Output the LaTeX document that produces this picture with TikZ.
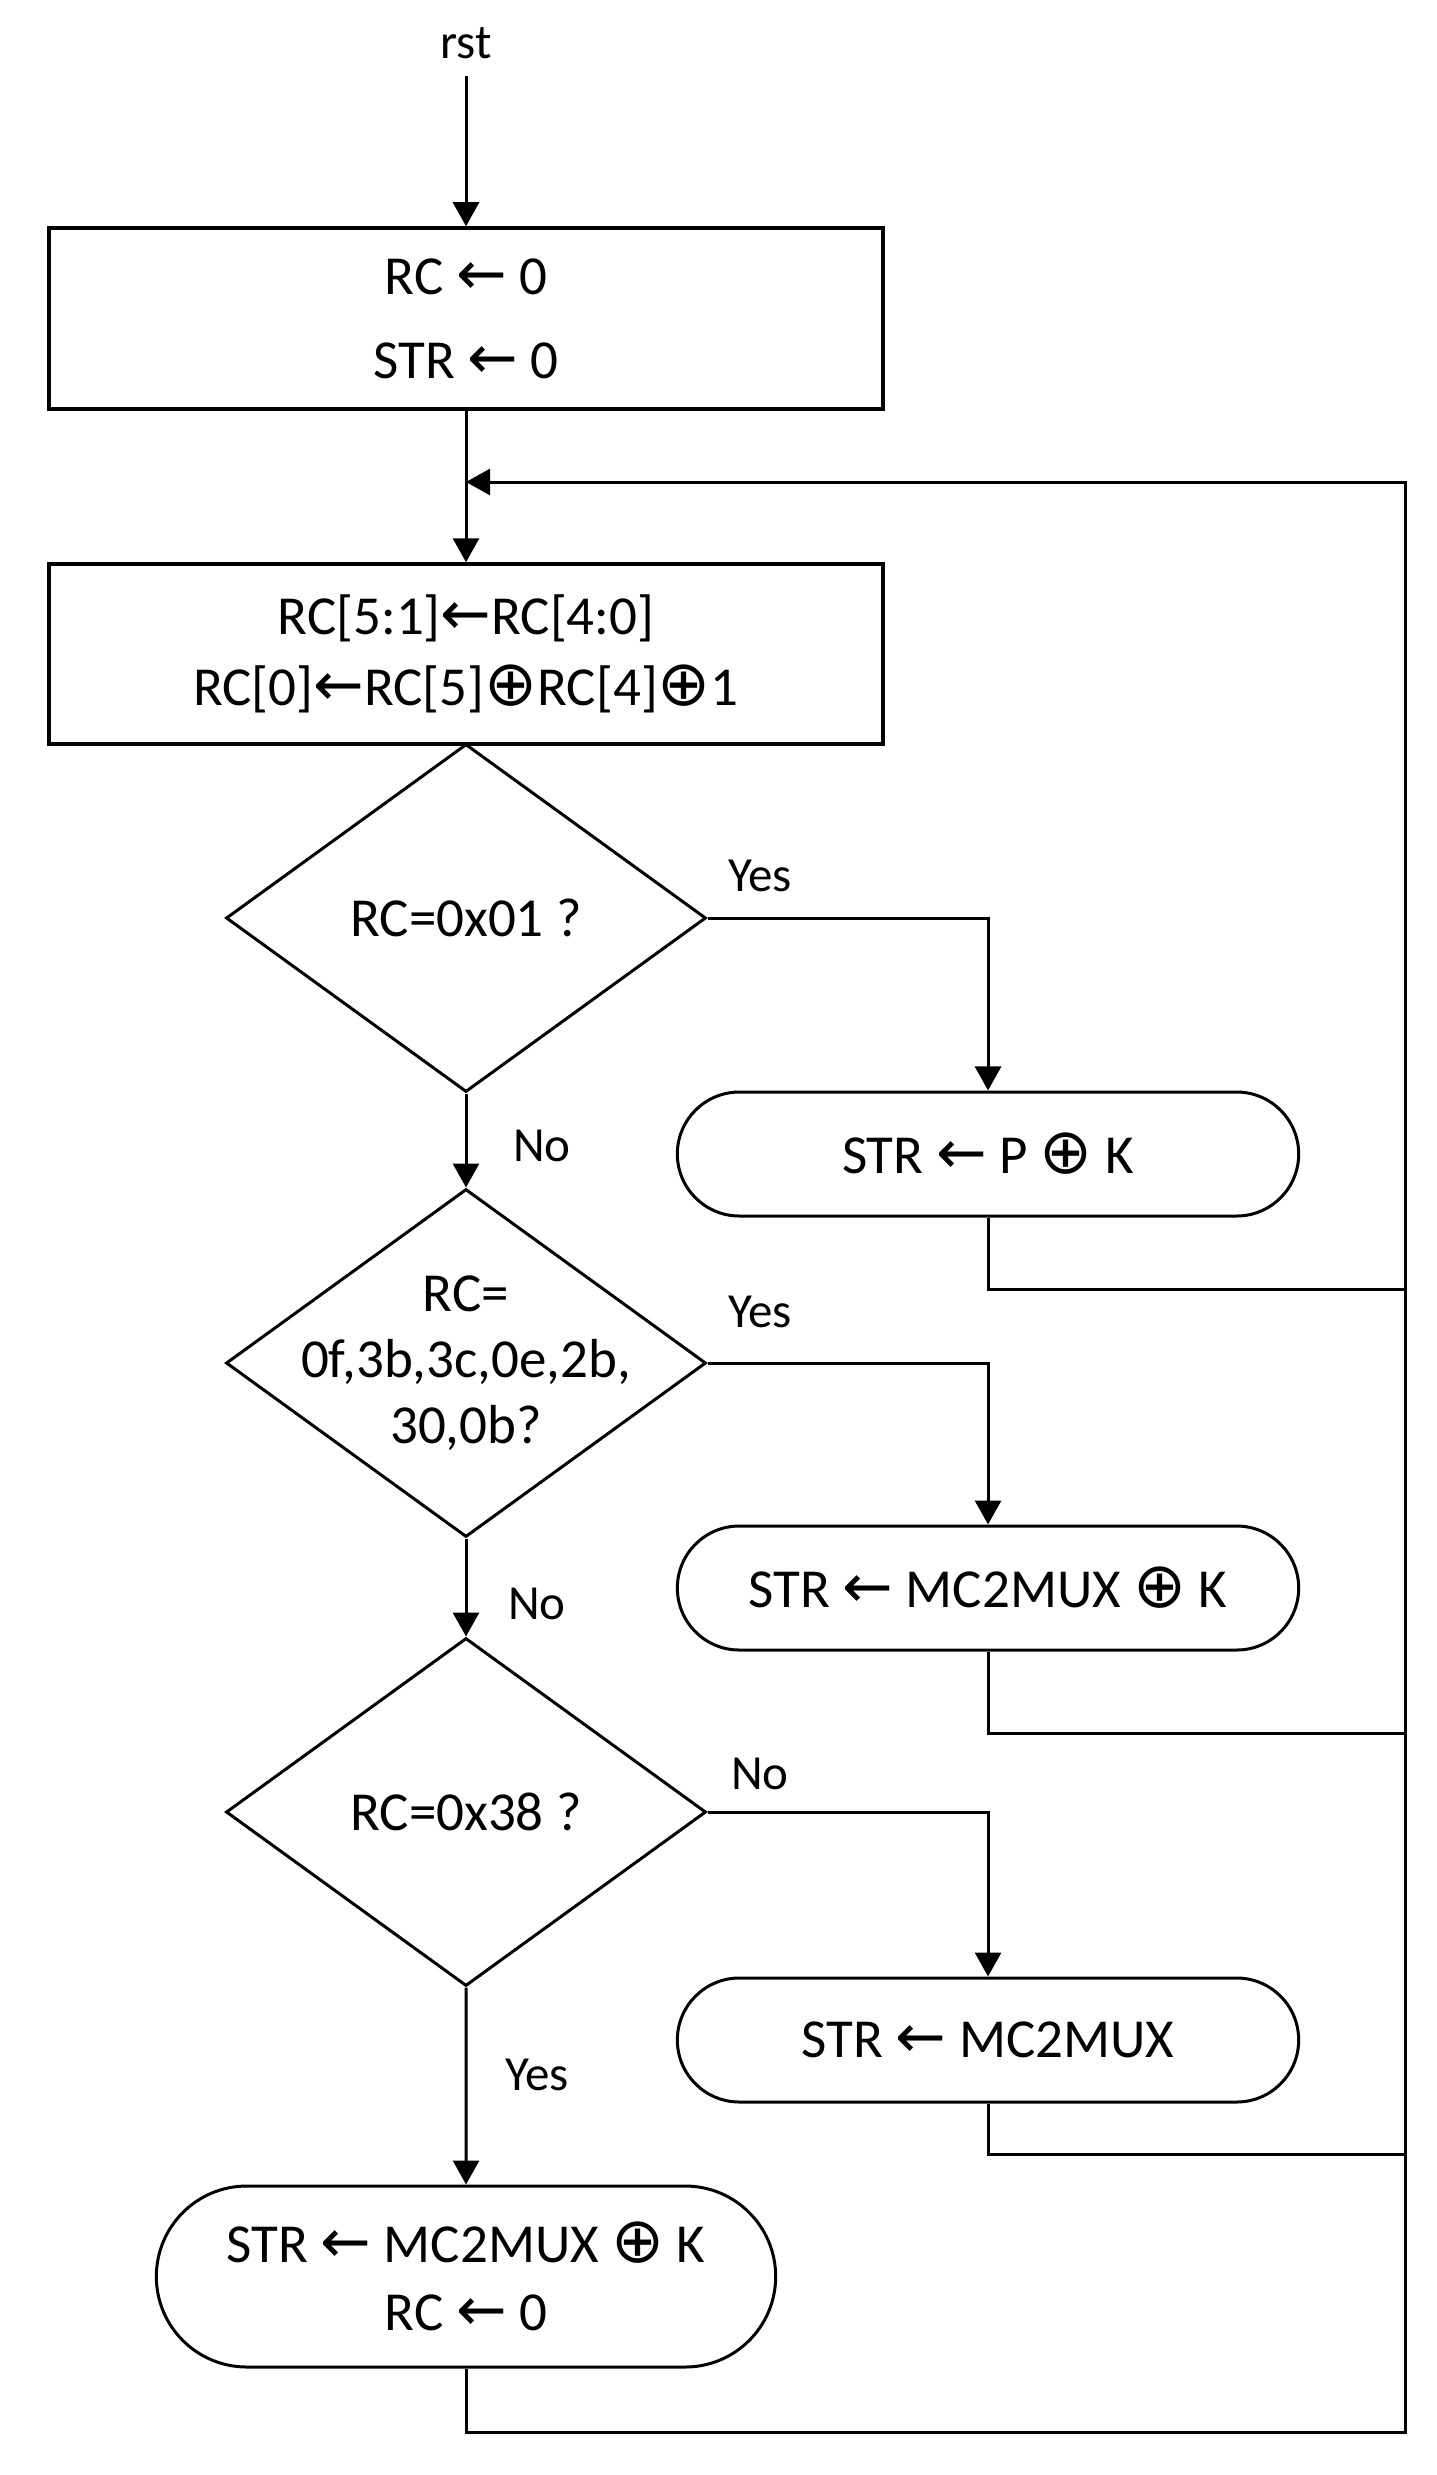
\documentclass[tikz,border=0pt]{standalone}
\usepackage{fontspec}
\setmainfont{Carlito}
\newfontfamily\arrowfont[Scale=1.1]{DejaVu Sans}
\newfontfamily\xorfont[Scale=1.15]{DejaVu Sans}
\newcommand{\getsarrow}{{\arrowfont ←}}
\newcommand{\xorsign}{{\xorfont ⊕}}
\usepackage{tikz}
\usetikzlibrary{positioning, arrows.meta, shapes.geometric, shapes.misc}
\tikzset{>={Triangle[length=24pt,width=26pt]}, % filled arrow heads
every node/.style={font=\fontsize{55}{66}\selectfont}, % main text size
block/.style={draw, rectangle, line width=3.5pt, minimum width=834pt, minimum height=181pt, align=center},
decision/.style={draw, diamond, line width=3pt, minimum width=480pt, minimum height=348pt, inner sep=0pt, align=center},
action/.style={draw, rounded rectangle, line width=3pt, minimum width=628pt, minimum height=124pt, align=center},
tag/.style={font=\fontsize{49}{58}\selectfont, inner sep=0pt}, % Yes / No labels
line/.style={line width=3pt},
}

\begin{document}
\begin{tikzpicture}[x=1pt, y=-1pt]
\useasboundingbox (0,0) rectangle (1436,2475);

\node[tag, inner sep=17pt] (rst) at (466,43) {rst};
\node[block] (init) at (466,318.5) {RC \getsarrow{} 0\\[18pt]STR \getsarrow{} 0};
\coordinate (join) at (466,482);
\node[block, minimum height=180pt] (shift) at (466,654) {RC[5:1]\getsarrow{}RC[4:0]\\[5pt]RC[0]\getsarrow{}RC[5]\xorsign{}RC[4]\xorsign{}1};

% decisions down the left column
\node[decision] (d1) at (466,918) {RC=0x01 ?};
\node[decision] (d2) at (466,1363) {};
\node[align=center] (d2txt) at (d2) {RC=\\0f,3b,3c,0e,2b,\\30,0b?};
\node[decision] (d3) at (466,1812) {RC=0x38 ?};
\node[action, minimum width=626pt, minimum height=181pt] (r4) at (466,2276.5) {STR \getsarrow{} MC2MUX \xorsign{} K\\[2pt]RC \getsarrow{} 0};

% actions on the right
\node[action] (r1) at (988,1154) {STR \getsarrow{} P \xorsign{} K};
\node[action] (r2) at (988,1588) {STR \getsarrow{} MC2MUX \xorsign{} K};
\node[action] (r3) at (988,2040) {STR \getsarrow{} MC2MUX};

% return bus
\coordinate (bus1) at (1405,1289);
\coordinate (bus2) at (1405,1733);
\coordinate (bus3) at (1405,2154);
\coordinate (bus4) at (1405,2432);

\node[tag] (yes1) at (760,876) {Yes};
\node[tag] (no1) at (542,1146) {No};
\node[tag] (yes2) at (760,1312) {Yes};
\node[tag] (no2) at (537,1604) {No};
\node[tag] (no3) at (760,1774) {No};
\node[tag] (yes3) at (537,2075) {Yes};

\draw[line,->] (rst) -- (init);
\draw[line] (init) -- (join);
\draw[line,->] (join) -- (shift);
\draw[line,->] (d1) -- (d2);
\draw[line,->] (d2) -- (d3);
\draw[line,->] (d3) -- (r4);
\draw[line,->] (d1) -| (r1);
\draw[line,->] (d2) -| (r2);
\draw[line,->] (d3) -| (r3);
\draw[line] (r1) |- (bus1);
\draw[line] (r2) |- (bus2);
\draw[line] (r3) |- (bus3);
\draw[line,->] (r4) |- (bus4) |- (join);

\end{tikzpicture}
\end{document}
